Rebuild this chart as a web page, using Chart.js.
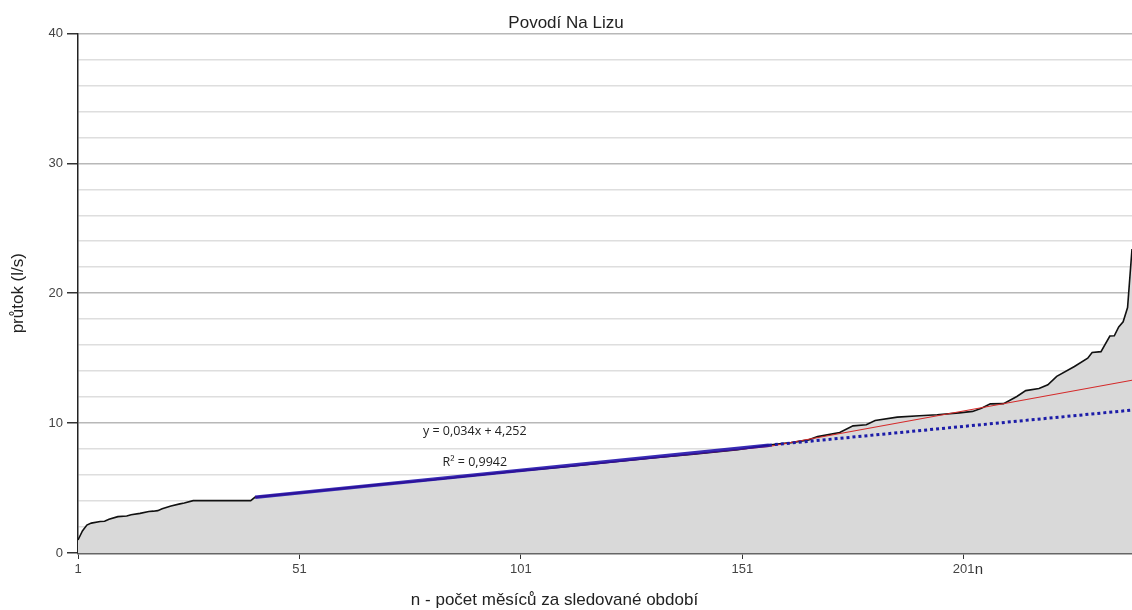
<!DOCTYPE html>
<html>
<head>
<meta charset="utf-8">
<script src="https://cdn.jsdelivr.net/npm/chart.js@4"></script>
<style>
  body { margin: 0; background: #fff; }
  #box { width: 1132px; height: 610px; }
</style>
</head>
<body>
<div id="box"><canvas id="prutokChart" width="1132" height="610"></canvas></div>
<script>
// Pořadí měsíců (n) a odečtené průtoky (l/s) - seřazená čára překročení
const flowN = [1, 2, 3, 4, 6, 7, 8, 10, 12, 13, 15, 17, 18, 19, 20, 22, 24, 25, 27, 40,
  41, 50, 60, 70, 80, 90, 100, 110, 120, 130, 140, 150, 157,
  162, 166, 168, 173, 176, 179, 181, 186, 191, 195, 200, 203, 205, 207, 210,
  213, 215, 218, 220, 222, 226, 229, 230, 232, 234, 235, 236, 237, 238, 239];
const flowQ = [1.0, 1.7, 2.15, 2.3, 2.42, 2.45, 2.6, 2.8, 2.85, 2.95, 3.05, 3.2, 3.22, 3.26, 3.4, 3.62, 3.78, 3.85, 4.03, 4.03,
  4.3, 4.6, 4.95, 5.3, 5.6, 5.95, 6.3, 6.6, 6.95, 7.3, 7.6, 7.95, 8.32,
  8.5, 8.71, 8.96, 9.27, 9.79, 9.87, 10.2, 10.46, 10.56, 10.64, 10.79, 10.9, 11.15, 11.48, 11.5,
  12.05, 12.5, 12.66, 12.95, 13.6, 14.36, 15.0, 15.44, 15.5, 16.7, 16.72, 17.4, 17.8, 18.9, 23.4];

// Lineární trend (modrá) - úsek proložení a jeho prodloužení
const trendN = [41, 157];
const trendQ = [4.3, 8.3];
const trendExtN = [157, 239];
const trendExtQ = [8.3, 11.0];

// Červená spojnice
const redN = [41, 157, 239];
const redQ = [4.3, 8.2, 13.3];

const xTickLabels = [1, 51, 101, 151, 201];
const yTickLabels = [0, 10, 20, 30, 40];

const eqText = 'y = 0,034x + 4,252';
const r2Text = 'R² = 0,9942';
const xTitle = 'n - počet měsíců za sledované období';

const FONT = '"Liberation Sans", Arial, sans-serif';

function toPoints(xs, ys) {
  return xs.map((x, i) => ({ x: x, y: ys[i] }));
}

// Popisky rovnice trendu, název osy x a písmeno n u osy
const notesPlugin = {
  id: 'notes',
  afterDatasetsDraw(chart) {
    const ctx = chart.ctx;
    const xs = chart.scales.x;
    const ys = chart.scales.y;
    ctx.save();
    ctx.fillStyle = '#222';
    ctx.font = '12.5px "Open Sans", sans-serif';
    ctx.textAlign = 'center';
    ctx.textBaseline = 'middle';
    ctx.fillText(eqText, xs.getPixelForValue(90.6), ys.getPixelForValue(9.35));
    ctx.fillText(r2Text, xs.getPixelForValue(90.6), ys.getPixelForValue(7.0));
    ctx.restore();
  },
  afterDraw(chart) {
    const ctx = chart.ctx;
    const xs = chart.scales.x;
    ctx.save();
    ctx.fillStyle = '#333';
    ctx.font = '15px ' + FONT;
    ctx.textAlign = 'left';
    ctx.textBaseline = 'middle';
    ctx.fillText('n', xs.getPixelForValue(201) + 11, xs.top + 17);
    ctx.fillStyle = '#222';
    ctx.font = '17px ' + FONT;
    ctx.textAlign = 'center';
    ctx.fillText(xTitle, xs.getPixelForValue(108.6), xs.top + 47);
    ctx.restore();
  }
};

function initChart() {
  const ctx = document.getElementById('prutokChart').getContext('2d');
  new Chart(ctx, {
    type: 'line',
    data: {
      datasets: [{
        label: 'průtok',
        data: toPoints(flowN, flowQ),
        borderColor: '#111',
        borderWidth: 1.6,
        backgroundColor: '#d9d9d9',
        fill: 'origin',
        pointRadius: 0,
        tension: 0,
        order: 4
      }, {
        label: 'červená',
        data: toPoints(redN, redQ),
        borderColor: '#d42a2a',
        borderWidth: 1.2,
        pointRadius: 0,
        fill: false,
        order: 3
      }, {
        label: 'trend',
        data: toPoints(trendN, trendQ),
        borderColor: 'rgba(30, 15, 170, 0.88)',
        borderWidth: 3.5,
        pointRadius: 0,
        fill: false,
        order: 2
      }, {
        label: 'trend - prodloužení',
        data: toPoints(trendExtN, trendExtQ),
        borderColor: '#1c1ca8',
        borderWidth: 3,
        borderDash: [3, 3],
        pointRadius: 0,
        fill: false,
        order: 1
      }]
    },
    options: {
      responsive: false,
      animation: false,
      layout: { padding: { left: 0, right: 0, top: 0, bottom: 0 } },
      plugins: {
        legend: { display: false },
        tooltip: { enabled: false },
        title: {
          display: true,
          text: 'Povodí Na Lizu',
          color: '#222',
          font: { family: FONT, size: 17, weight: 'normal' },
          padding: { top: 13, bottom: 0 }
        }
      },
      scales: {
        x: {
          type: 'linear',
          min: 1,
          max: 239,
          afterBuildTicks: function(scale) {
            scale.ticks = xTickLabels.map(v => ({ value: v }));
          },
          afterFit: function(scale) { scale.height = 57; },
          ticks: {
            autoSkip: false,
            maxRotation: 0,
            padding: 3,
            color: '#444',
            font: { family: FONT, size: 13 }
          },
          grid: {
            drawOnChartArea: false,
            tickLength: 6,
            tickColor: '#333'
          },
          border: { color: '#666', width: 2.5 }
        },
        y: {
          min: 0,
          max: 40,
          afterFit: function(scale) { scale.width = 78; },
          ticks: {
            stepSize: 2,
            autoSkip: false,
            padding: 4,
            color: '#444',
            font: { family: FONT, size: 13 },
            callback: function(v) { return yTickLabels.includes(v) ? String(v) : ''; }
          },
          grid: {
            lineWidth: 1.5,
            tickLength: 11,
            color: function(c) { return c.tick && c.tick.value % 10 === 0 ? '#b8b8b8' : '#dedede'; },
            tickColor: function(c) { return c.tick && c.tick.value % 10 === 0 ? '#333' : 'rgba(0,0,0,0)'; }
          },
          border: { color: '#222', width: 1.5 },
          title: {
            display: true,
            text: 'průtok (l/s)',
            color: '#222',
            font: { family: FONT, size: 17 },
            padding: { top: 8, bottom: 0 }
          }
        }
      }
    },
    plugins: [notesPlugin]
  });
}

document.addEventListener('DOMContentLoaded', initChart);
</script>
</body>
</html>
